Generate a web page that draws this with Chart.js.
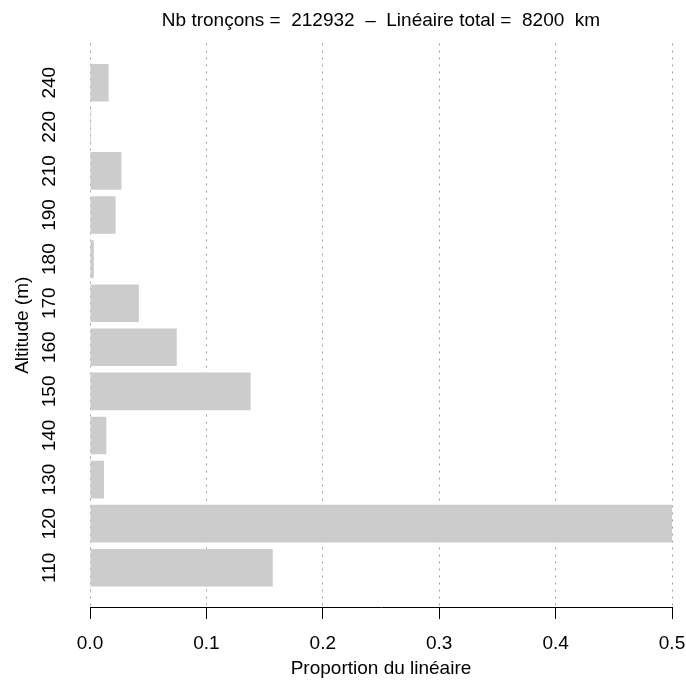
<!DOCTYPE html>
<html>
<head>
<meta charset="utf-8">
<script src="https://cdn.jsdelivr.net/npm/chart.js@4/dist/chart.umd.min.js"></script>
<style>
  html, body { margin: 0; padding: 0; background: #fff; }
  #wrap { width: 686px; height: 680px; }
</style>
</head>
<body>
<div id="wrap"><canvas id="chart" width="686" height="680"></canvas></div>
<script>
// altitude classes, bottom to top
const altitudes = ['110', '120', '130', '140', '150', '160', '170', '180', '190', '210', '220', '240'];
// share of total length per altitude class
const proportions = [0.157, 0.5, 0.012, 0.014, 0.138, 0.0745, 0.042, 0.0033, 0.022, 0.027, 0.001, 0.016];
const xTicks = [0, 0.1, 0.2, 0.3, 0.4, 0.5];

const titleText = 'Nb tronçons =  212932  –  Linéaire total =  8200  km';

Chart.defaults.font.family = 'Liberation Sans, Arial, Helvetica, sans-serif';
Chart.defaults.font.size = 19;
Chart.defaults.color = '#000';

// drop the label padding chart.js adds on the ends of an axis
const noEndPad = s => {
  s.paddingLeft = 0; s.paddingRight = 0;
  s.paddingTop = 0; s.paddingBottom = 0;
};

const ctx = document.getElementById('chart').getContext('2d');
new Chart(ctx, {
  type: 'bar',
  data: {
    datasets: [{
      data: proportions.map((v, i) => ({ x: v, y: i })),
      backgroundColor: '#cccccc',
      borderWidth: 0,
      categoryPercentage: 1,
      barPercentage: 0.853
    }]
  },
  options: {
    indexAxis: 'y',
    responsive: false,
    animation: false,
    layout: { padding: { left: 0, right: 14, top: 0, bottom: 0 } },
    plugins: {
      legend: { display: false },
      tooltip: { enabled: false },
      title: { display: false }
    },
    scales: {
      x: {
        type: 'linear',
        position: 'bottom',
        min: 0,
        max: 0.5,
        z: 1,
        afterBuildTicks: s => { s.ticks = xTicks.map(v => ({ value: v })); },
        afterFit: s => { noEndPad(s); s.height = 73; },
        ticks: {
          padding: 13.5,
          callback: v => v.toFixed(1),
          maxRotation: 0
        },
        grid: {
          color: '#a0a0a0',
          lineWidth: 1,
          tickColor: '#000',
          tickLength: 12,
          tickBorderDash: []
        },
        border: { display: true, color: '#000', width: 1, dash: [2, 5] },
        title: {
          display: true,
          text: 'Proportion du linéaire',
          padding: { top: 0, bottom: 0 }
        }
      },
      // top axis only carries the main title, centred over the plot
      xTop: {
        type: 'linear',
        position: 'top',
        display: true,
        afterFit: s => { noEndPad(s); s.height = 43.5; },
        ticks: { display: false },
        grid: { display: false, drawTicks: false, tickLength: 0 },
        border: { display: false },
        title: {
          display: true,
          text: titleText,
          padding: { top: 9.6, bottom: 11.1 }
        }
      },
      y: {
        type: 'linear',
        offset: false,
        min: -0.89,
        max: 11.89,
        afterBuildTicks: s => { s.ticks = altitudes.map((a, i) => ({ value: i })); },
        afterFit: s => { noEndPad(s); s.width = 90; },
        ticks: {
          minRotation: 90,
          maxRotation: 90,
          crossAlign: 'center',
          padding: 24,
          callback: v => altitudes[v]
        },
        grid: { display: false, offset: false, drawTicks: false, tickLength: 0 },
        border: { display: false },
        title: {
          display: true,
          text: 'Altitude (m)',
          padding: { top: 11.1, bottom: 0 }
        }
      }
    }
  }
});
</script>
</body>
</html>
